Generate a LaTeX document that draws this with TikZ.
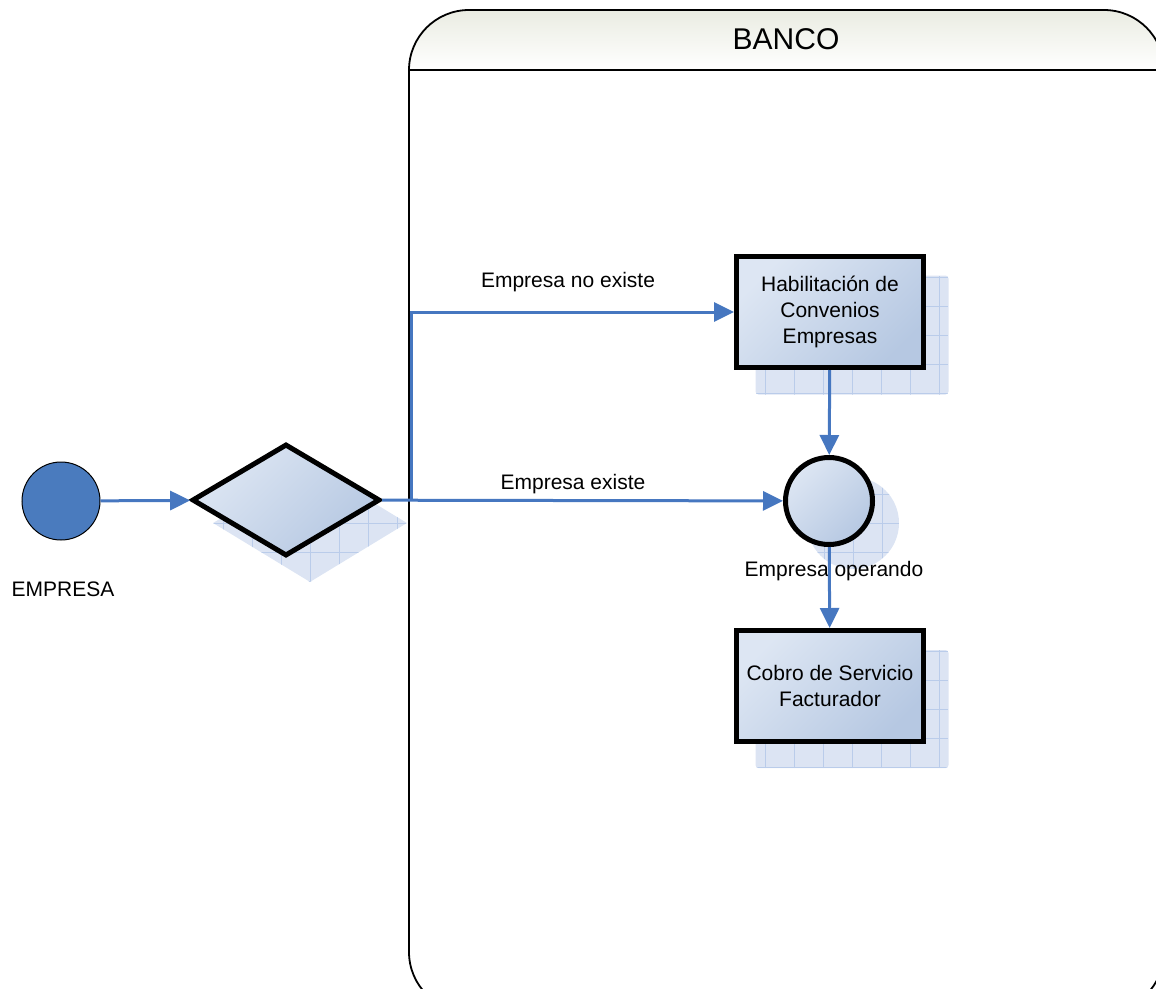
\documentclass[tikz,border=0pt]{standalone}
\usepackage{fontspec}
\setmainfont{Liberation Sans}
\usetikzlibrary{arrows.meta,shapes.geometric,positioning}

\definecolor{flowblue}{HTML}{4677C0}
\definecolor{startblue}{HTML}{4A7BBE}
\definecolor{taskhigh}{HTML}{DDE6F3}
\definecolor{tasklow}{HTML}{B6C8E2}
\definecolor{ghostblue}{HTML}{DCE4F3}
\definecolor{ghostline}{HTML}{BACCEA}
\definecolor{poolhead}{HTML}{EAECE2}

\tikzset{
  flow/.style={color=flowblue, line width=3pt, >={Triangle[length=20pt,width=19pt]}, ->},
  task/.style={rectangle, draw=black, line width=5pt, top color=taskhigh, bottom color=tasklow,
    shading angle=45, minimum width=187pt, minimum height=111pt, align=center,
    font=\fontsize{21}{26}\selectfont},
  ghost/.style={fill=ghostblue, draw=none, inner sep=0pt,
    path picture={\draw[ghostline, line width=0.7pt] (path picture bounding box.south west)
      grid[step=29pt] (path picture bounding box.north east);}},
  lbl/.style={font=\fontsize{21}{26}\selectfont, inner sep=0pt},
}

\begin{document}
\begin{tikzpicture}[x=1pt, y=-1pt]
    \useasboundingbox (0,0) rectangle (1156,988);
    \clip (0,0) rectangle (1156,988);

    % pool
    \begin{scope}
      \clip[rounded corners=60pt] (409,10) rectangle (1164,1012);
      \fill[top color=poolhead, bottom color=white] (409,10) rectangle (1164,70);
    \end{scope}
    \draw[line width=1.8pt, rounded corners=60pt] (409,10) rectangle (1164,1012);
    \draw[line width=1.8pt] (409,70) -- (1164,70);
    \node[font=\fontsize{30}{34}\selectfont] (banco) at (786,39) {BANCO};

    % shadows
    \node[ghost, diamond, minimum width=194pt, minimum height=118pt] (gateghost) at (310,523) {};
    \node[ghost, rectangle, rounded corners=3pt, minimum width=193pt, minimum height=119pt] (habilghost) at (852,335) {};
    \node[ghost, rectangle, rounded corners=3pt, minimum width=193pt, minimum height=118pt] (cobroghost) at (852,709) {};
    \node[ghost, circle, minimum size=92pt] (joinghost) at (853,523) {};

    % nodes
    \node[circle, fill=startblue, draw=black, line width=1pt, minimum size=78pt] (start) at (61,501) {};
    \node[lbl] (empresa) at (63,589) {EMPRESA};
    \node[diamond, draw=black, line width=5pt, top color=taskhigh, bottom color=tasklow, shading angle=45,
      inner sep=0pt, minimum width=188pt, minimum height=112pt] (gate) at (286,500) {};
    \node[task] (habil) at (830,312) {Habilitación de\\Convenios\\Empresas};
    \node[circle, draw=black, line width=5pt, top color=taskhigh, bottom color=tasklow, shading angle=45,
      minimum size=87pt] (join) at (829,501) {};
    \node[task] (cobro) at (830,686) {Cobro de Servicio\\Facturador};
    \coordinate (split) at (411,501);

    % labels
    \node[lbl] (noexiste) at (568,282) {Empresa no existe};
    \node[lbl] (existe) at (573,484) {Empresa existe};
    \node[lbl] (operando) at (834,571) {Empresa operando};

    \draw[flow] (start) -- (gate);
    \draw[flow] (gate) -- (join);
    \draw[flow] (split) |- (habil);
    \draw[flow] (habil) -- (join);
    \draw[flow] (join) -- (cobro);
  \end{tikzpicture}
\end{document}
